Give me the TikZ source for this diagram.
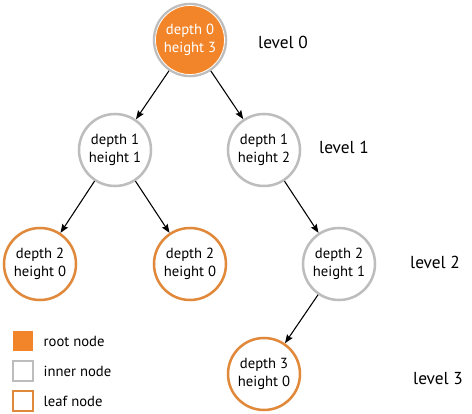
\documentclass[tikz,border=0pt]{standalone}
\usepackage{fontspec}
\setmainfont{PT Sans}
\usetikzlibrary{arrows.meta}
\definecolor{rootorange}{HTML}{F28529}
\definecolor{leaforange}{HTML}{E0893A}
\definecolor{ringgray}{HTML}{BDBDBD}
\begin{document}
\begin{tikzpicture}[x=0.75pt,y=-0.75pt,
  treenode/.style={circle,minimum size=54pt,inner sep=0pt,line width=1.9pt,
    align=center,font=\fontsize{11}{13.5}\selectfont},
  rootnode/.style={treenode,draw=ringgray,fill=rootorange,text=white},
  innernode/.style={treenode,draw=ringgray,fill=white},
  leafnode/.style={treenode,draw=leaforange,fill=white},
  edge/.style={line width=0.8pt,-{Stealth[length=6.5pt,width=5pt,inset=1pt]}},
  levellabel/.style={font=\fontsize{13}{15}\selectfont},
  legendbox/.style={minimum size=15pt,inner sep=0pt,line width=1.9pt},
  legendtext/.style={anchor=west,font=\fontsize{11}{13}\selectfont}]
\useasboundingbox (0,0) rectangle (472,414);

% tree nodes
\node[rootnode]  (n0)   at (190,40)  {depth 0\\height 3};
\node[innernode] (n1l)  at (115,150) {depth 1\\height 1};
\node[innernode] (n1r)  at (264,150) {depth 1\\height 2};
\node[leafnode]  (n2a)  at (40,264)  {depth 2\\height 0};
\node[leafnode]  (n2b)  at (190,264) {depth 2\\height 0};
\node[innernode] (n2c)  at (339,264) {depth 2\\height 1};
\node[leafnode]  (n3)   at (264,374) {depth 3\\height 0};

% white gap between the root fill and its grey ring
\draw[white,line width=0.6pt] (n0.center) circle[radius=34.5];

% parent to child edges
\draw[edge] (n0)  -- (n1l);
\draw[edge] (n0)  -- (n1r);
\draw[edge] (n1l) -- (n2a);
\draw[edge] (n1l) -- (n2b);
\draw[edge] (n1r) -- (n2c);
\draw[edge] (n2c) -- (n3);

% level labels
\node[levellabel] (l0) at (283,42)  {level 0};
\node[levellabel] (l1) at (344,147) {level 1};
\node[levellabel] (l2) at (435,262) {level 2};
\node[levellabel] (l3) at (438,379) {level 3};

% legend
\node[legendbox,fill=rootorange]              (kroot)  at (23,341) {};
\node[legendbox,draw=ringgray,fill=white]     (kinner) at (23,371) {};
\node[legendbox,draw=leaforange,fill=white]   (kleaf)  at (23,401) {};
\node[legendtext] (troot)  at (39,341) {root node};
\node[legendtext] (tinner) at (39,371) {inner node};
\node[legendtext] (tleaf)  at (39,401) {leaf node};
\end{tikzpicture}
\end{document}
